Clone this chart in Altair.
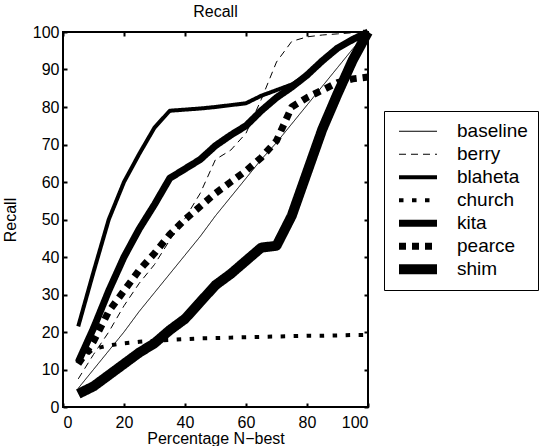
import altair as alt
import pandas as pd

# ---- data ----
pct = [5, 10, 15, 20, 25, 30, 35, 40, 45, 50, 55, 60, 65, 70, 75, 80, 85, 90, 95, 100]

baseline = [5, 10, 15, 20, 25.5, 30.5, 35.5, 40.5, 45.5, 51, 56, 61, 66, 70.5, 75.5, 80.5, 85.5, 90.5, 95.5, 100]
berry = [7.5, 14, 20, 27, 33, 38, 44.5, 50.3, 57, 66, 68.5, 73, 82, 92, 97.5, 98.7, 99.2, 99.5, 99.8, 100]
blaheta = [21.5, 36, 50, 60, 67.5, 74.5, 79, 79.3, 79.6, 80, 80.5, 81, 83, 84.5, 86, 88.5, 92, 95.5, 98, 100]
church = [12, 15.5, 16.4, 17, 17.4, 17.7, 17.9, 18.1, 18.3, 18.4, 18.5, 18.6, 18.7, 18.8, 18.9, 19, 19, 19.1, 19.2, 19.2]
kita = [12, 21, 31, 40, 47.5, 54, 61, 63.5, 66, 69.7, 72.5, 75, 79, 82.5, 85.3, 88.5, 92.3, 95.7, 98, 100]
pearce = [11.5, 17.5, 25.5, 31, 36.5, 41, 46, 50, 53.5, 57, 60, 63, 66.5, 71, 80, 82.5, 84.5, 86.5, 87.5, 88]
shim = [3.5, 5.5, 8.5, 11.5, 14.5, 17, 20.5, 23.5, 28, 32.5, 35.5, 39, 42.5, 43, 51, 62.5, 74, 83.5, 92.5, 100]

names = ["baseline", "berry", "blaheta", "church", "kita", "pearce", "shim"]
series = [baseline, berry, blaheta, church, kita, pearce, shim]

x_ticks = [0, 20, 40, 60, 80, 100]
y_ticks = [0, 10, 20, 30, 40, 50, 60, 70, 80, 90, 100]

# ---- styles ----
widths = [1, 1, 4, 4, 7, 7, 10]
dashes = [[1, 0], [7, 5], [1, 0], [4.5, 8.5], [1, 0], [7, 6], [1, 0]]

rows = []
for name, vals in zip(names, series):
    for xv, yv in zip(pct, vals):
        rows.append({"pct": xv, "recall": yv, "method": name})
df = pd.DataFrame(rows)

W, H = 305, 375
FONT = "Liberation Sans"
xscale = alt.Scale(domain=[0, 100], nice=False, zero=False)
yscale = alt.Scale(domain=[0, 100], nice=False, zero=False)

leg = alt.Legend(
    orient="none", legendX=321, legendY=79, title=None,
    labelFontSize=19, labelFont=FONT, labelColor="black",
    symbolType="stroke", symbolSize=1444, symbolStrokeColor="black",
    strokeColor="black", padding=10, rowPadding=2, clipHeight=20.5,
    labelOffset=15, fillColor="white",
)

lines = alt.Chart(df).mark_line(color="black", strokeCap="butt", strokeJoin="round").encode(
    x=alt.X("pct:Q", scale=xscale,
            axis=alt.Axis(orient="bottom", values=x_ticks, title="Percentage N\u2212best",
                          ticks=False, domain=False, grid=False, labelPadding=7,
                          titlePadding=0)),
    y=alt.Y("recall:Q", scale=yscale,
            axis=alt.Axis(orient="left", values=y_ticks, title="Recall",
                          ticks=False, domain=False, grid=False, labelPadding=4,
                          titlePadding=14)),
    strokeDash=alt.StrokeDash("method:N", scale=alt.Scale(domain=names, range=dashes), legend=leg),
    strokeWidth=alt.StrokeWidth("method:N", scale=alt.Scale(type="ordinal", domain=names, range=widths), legend=leg),
)


def tick_layer(xorient, yorient):
    return alt.Chart(df).mark_point(opacity=0).encode(
        x=alt.X("pct:Q", scale=xscale,
                axis=alt.Axis(orient=xorient, offset=-H, values=x_ticks, labels=False, domain=False,
                              ticks=True, tickSize=4, tickWidth=2, tickColor="black", title=None, grid=False)),
        y=alt.Y("recall:Q", scale=yscale,
                axis=alt.Axis(orient=yorient, offset=-W, values=y_ticks, labels=False, domain=False,
                              ticks=True, tickSize=4, tickWidth=2, tickColor="black", title=None, grid=False)),
    )


chart = alt.layer(lines, tick_layer("top", "right"), tick_layer("bottom", "left")).resolve_axis(
    x="independent", y="independent"
).properties(
    width=W, height=H,
    title=alt.TitleParams("Recall", fontSize=16, font=FONT, fontWeight="normal", color="black", offset=4),
    padding={"left": 2, "top": 4, "right": 0, "bottom": 0},
).configure_view(
    stroke="black", strokeWidth=2
).configure_axis(
    labelFont=FONT, labelFontSize=16, labelColor="black",
    titleFont=FONT, titleFontSize=16, titleFontWeight="normal", titleColor="black",
)

chart.save("out.html", embed_options={"renderer": "svg", "actions": False})
